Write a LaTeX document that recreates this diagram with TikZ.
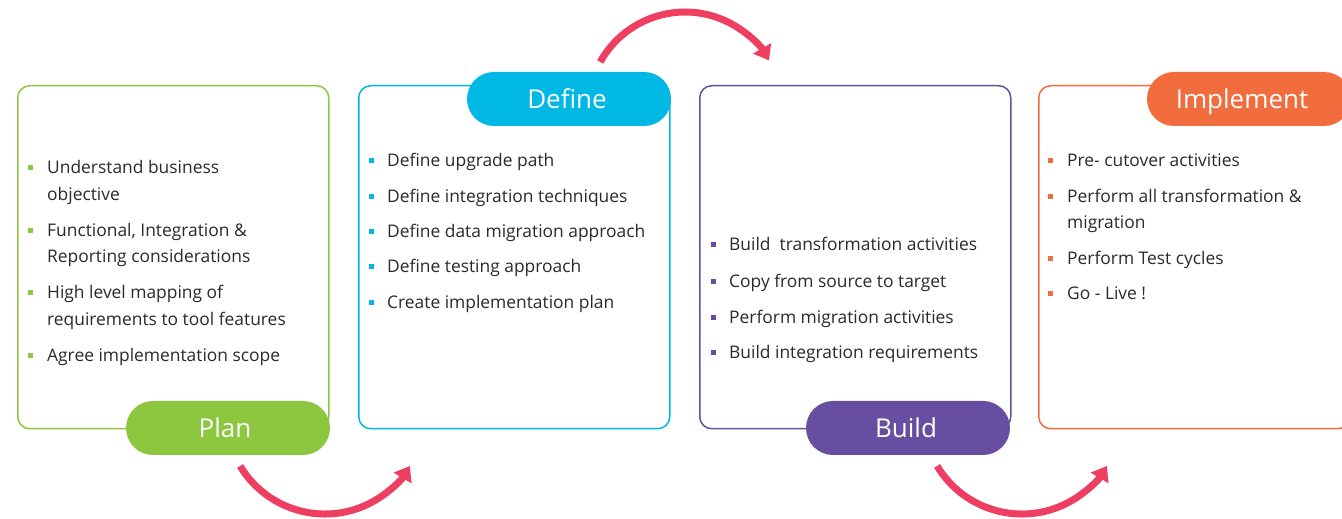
\documentclass[tikz,border=0pt]{standalone}
\usepackage{fontspec}
\setmainfont{Open Sans}
\usetikzlibrary{arrows.meta}
\definecolor{cgreen}{HTML}{8DC63F}
\definecolor{ccyan}{HTML}{00B8E4}
\definecolor{cpurple}{HTML}{674EA0}
\definecolor{corange}{HTML}{F26D3D}
\definecolor{cpink}{HTML}{EE3E62}
\definecolor{ctext}{HTML}{2A2A2A}
\begin{document}
\begin{tikzpicture}[x=1pt,y=1pt,
 frame/.style={draw=#1, line width=1.5pt, rounded corners=12pt, minimum width=311pt, minimum height=343pt, anchor=north west, inner sep=0pt},
 pill/.style={fill=#1, rounded corners=27pt, minimum width=204pt, minimum height=54pt, inner sep=0pt, text=white, text height=19pt, text depth=0pt, font=\fontsize{26}{30}\selectfont},
 itm/.style={anchor=base west, inner sep=0pt, text=ctext, font=\fontsize{17.4}{20}\selectfont},
 bul/.style={fill=#1, minimum size=5pt, inner sep=0pt},
 flow/.style={draw=cpink, line width=7pt, -{Triangle[width=20pt,length=14pt]}}]

\fill[white] (0,0) rectangle (1342,519);
\useasboundingbox (0,0) rectangle (1342,519);

% frames
\node[frame=cgreen] (f1) at (17,434) {};
\node[frame=ccyan] (f2) at (358,434) {};
\node[frame=cpurple] (f3) at (699,434) {};
\node[frame=corange] (f4) at (1038,434) {};

% pills
\node[pill=cgreen] (plan) at (228,91) {\hspace*{-6pt}Plan};
\node[pill=ccyan] (define) at (569,420) {\hspace*{-4pt}Define};
\node[pill=cpurple] (build) at (908,91) {\hspace*{-4pt}Build};
\node[pill=corange] (impl) at (1249,420) {\hspace*{-14pt}Implement};

% Plan items
\node[bul=cgreen] (pb1) at (30,351) {};
\node[itm] (pt1) at (47,345) {Understand business};
\node[itm] (pt1b) at (47,318.5) {objective};
\node[bul=cgreen] (pb2) at (30,288.5) {};
\node[itm] (pt2) at (47,282.5) {Functional, Integration \&};
\node[itm] (pt2b) at (47,256) {Reporting considerations};
\node[bul=cgreen] (pb3) at (30,226) {};
\node[itm] (pt3) at (47,220) {High level mapping of};
\node[itm] (pt3b) at (47,193.5) {requirements to tool features};
\node[bul=cgreen] (pb4) at (30,163.5) {};
\node[itm] (pt4) at (47,157.5) {Agree implementation scope};

% Define items
\node[bul=ccyan] (db1) at (371,358.3) {};
\node[itm] (dt1) at (387,352.3) {Define upgrade path};
\node[bul=ccyan] (db2) at (371,322.3) {};
\node[itm] (dt2) at (387,316.3) {Define integration techniques};
\node[bul=ccyan] (db3) at (371,287.3) {};
\node[itm] (dt3) at (387,281.3) {Define data migration approach};
\node[bul=ccyan] (db4) at (371,252.3) {};
\node[itm] (dt4) at (387,246.3) {Define testing approach};
\node[bul=ccyan] (db5) at (371,216.7) {};
\node[itm] (dt5) at (387,210.7) {Create implementation plan};

% Build items
\node[bul=cpurple] (bb1) at (713,274) {};
\node[itm] (bt1) at (729,268) {Build\ \ transformation activities};
\node[bul=cpurple] (bb2) at (713,237.7) {};
\node[itm] (bt2) at (729,231.7) {Copy from source to target};
\node[bul=cpurple] (bb3) at (713,201.7) {};
\node[itm] (bt3) at (729,195.7) {Perform migration activities};
\node[bul=cpurple] (bb4) at (713,166) {};
\node[itm] (bt4) at (729,160) {Build integration requirements};

% Implement items
\node[bul=corange] (ib1) at (1050.5,358.3) {};
\node[itm] (it1) at (1067,352.3) {Pre- cutover activities};
\node[bul=corange] (ib2) at (1050.5,322.3) {};
\node[itm] (it2) at (1067,316.3) {Perform all transformation \&};
\node[itm] (it2b) at (1067,290.7) {migration};
\node[bul=corange] (ib3) at (1050.5,260.7) {};
\node[itm] (it3) at (1067,254.7) {Perform Test cycles};
\node[bul=corange] (ib4) at (1050.5,225) {};
\node[itm] (it4) at (1067,219) {Go - Live !};

% flow arrows
\coordinate (a1) at (240.1,53);
\coordinate (a2) at (600.2,457);
\coordinate (a3) at (937.1,53);
\draw[flow] (a1) arc[start angle=211, end angle=329, radius=99pt];
\draw[flow] (a2) arc[start angle=151, end angle=30, radius=97pt];
\draw[flow] (a3) arc[start angle=211, end angle=329, radius=99pt];
\end{tikzpicture}
\end{document}
